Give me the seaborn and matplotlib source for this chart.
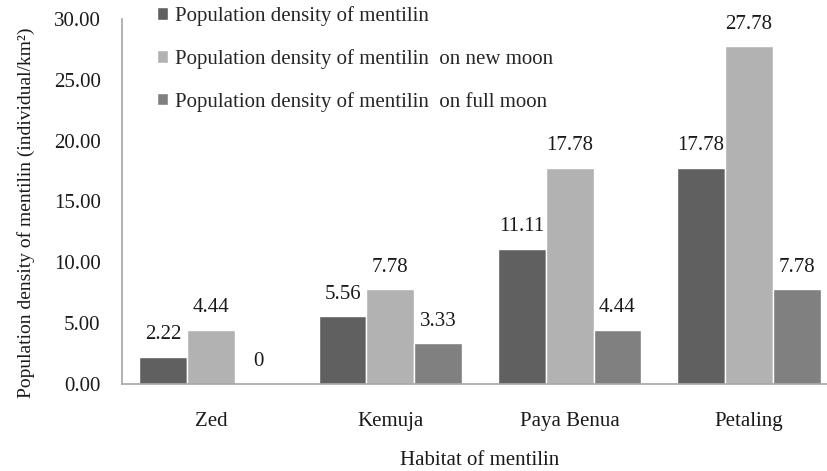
import matplotlib
matplotlib.use("Agg")
import matplotlib.pyplot as plt
import seaborn as sns
import pandas as pd

habitats = ["Zed", "Kemuja", "Paya Benua", "Petaling"]
series_names = [
    "Population density of mentilin",
    "Population density of mentilin  on new moon",
    "Population density of mentilin  on full moon",
]
density_all = [2.22, 5.56, 11.11, 17.78]
density_new = [4.44, 7.78, 17.78, 27.78]
density_full = [0.0, 3.33, 4.44, 7.78]
colors = ["#606060", "#b2b2b2", "#808080"]

rows = []
for name, vals in zip(series_names, [density_all, density_new, density_full]):
    for h, v in zip(habitats, vals):
        rows.append({"Habitat": h, "Density": v, "Series": name})
df = pd.DataFrame(rows)

sns.set_style("white")
plt.rcParams["font.family"] = ["Liberation Serif", "DejaVu Serif"]
txt = "#1a1a1a"

fig = plt.figure(figsize=(8.28, 4.71), dpi=100)
ax = fig.add_axes([121.5 / 828, 87 / 471, 717 / 828, 365 / 471])

sns.barplot(data=df, x="Habitat", y="Density", hue="Series", palette=colors,
            width=0.8, saturation=1, errorbar=None, ax=ax, legend=True)

for cont in ax.containers:
    labels = ["0" if v == 0 else f"{v:.2f}" for v in cont.datavalues]
    ax.bar_label(cont, labels=labels, padding=9, fontsize=15, color=txt)

ax.set_ylim(0, 30)
ax.set_xlim(-0.5, 3.5)
ax.set_yticks([0, 5, 10, 15, 20, 25, 30])
ax.set_yticklabels([f"{t:.2f}" for t in [0, 5, 10, 15, 20, 25, 30]])
ax.tick_params(axis="y", length=0, pad=15, labelsize=15, labelcolor=txt)
ax.tick_params(axis="x", length=0, pad=20, labelsize=15, labelcolor=txt)

for s in ["top", "right"]:
    ax.spines[s].set_visible(False)
for s in ["left", "bottom"]:
    ax.spines[s].set_color("#a6a6a6")
    ax.spines[s].set_linewidth(1.2)

ax.set_xlabel("Habitat of mentilin", fontsize=15, color=txt)
ax.xaxis.set_label_coords(0.5, -0.184)
ax.set_ylabel("Population density of mentilin (individual/km²)", fontsize=14,
              color=txt)
ax.yaxis.set_label_coords(-0.121, 0.47)

handles, labels = ax.get_legend_handles_labels()
ax.get_legend().remove()
fig.legend(handles, labels, loc="upper left", bbox_to_anchor=(157 / 828, 1 - 6 / 471),
           frameon=False, fontsize=15, handlelength=0.55, handleheight=0.55,
           handletextpad=0.3, labelspacing=1.1, borderaxespad=0.0,
           borderpad=0.0)

fig.savefig("out.png", dpi=100)
